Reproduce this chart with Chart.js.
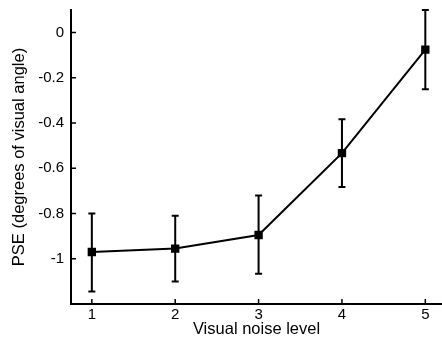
<!DOCTYPE html>
<html>
<head>
<meta charset="utf-8">
<script src="https://cdn.jsdelivr.net/npm/chart.js@4"></script>
<style>
  html, body { margin: 0; padding: 0; background: #fff; }
  #wrap { width: 442px; height: 345px; }
</style>
</head>
<body>
<div id="wrap"><canvas id="pseChart" width="442" height="345"></canvas></div>
<script>
// data
const noiseLevels = [1, 2, 3, 4, 5];
const pseMean = [-0.97, -0.955, -0.895, -0.533, -0.075];
const pseUpper = [-0.80, -0.81, -0.72, -0.383, 0.10];
const pseLower = [-1.145, -1.10, -1.066, -0.683, -0.25];
const yTickValues = [0, -0.2, -0.4, -0.6, -0.8, -1];
const xTickValues = [1, 2, 3, 4, 5];

const fontFamily = '"Liberation Sans", Arial, sans-serif';

// error bars + inward tick marks
const errorBarPlugin = {
    id: 'errorBars',
    afterDatasetsDraw(chart) {
        const ctx = chart.ctx;
        const xs = chart.scales.x;
        const ys = chart.scales.y;
        ctx.save();
        ctx.strokeStyle = '#000';
        ctx.lineWidth = 2;
        noiseLevels.forEach((lv, i) => {
            const px = xs.getPixelForValue(lv);
            const top = ys.getPixelForValue(pseUpper[i]);
            const bot = ys.getPixelForValue(pseLower[i]);
            ctx.beginPath();
            ctx.moveTo(px, top); ctx.lineTo(px, bot);
            ctx.moveTo(px - 3.5, top); ctx.lineTo(px + 3.5, top);
            ctx.moveTo(px - 3.5, bot); ctx.lineTo(px + 3.5, bot);
            ctx.stroke();
        });
        // ticks point into the plot
        const area = chart.chartArea;
        ctx.lineWidth = 1.5;
        ctx.beginPath();
        yTickValues.forEach(v => {
            const py = ys.getPixelForValue(v);
            ctx.moveTo(area.left, py); ctx.lineTo(area.left + 5, py);
        });
        xTickValues.forEach(v => {
            const px = xs.getPixelForValue(v);
            ctx.moveTo(px, area.bottom); ctx.lineTo(px, area.bottom - 5);
        });
        ctx.stroke();
        ctx.restore();
    }
};

const ctx = document.getElementById('pseChart').getContext('2d');
new Chart(ctx, {
    type: 'scatter',
    data: {
        datasets: [{
            data: noiseLevels.map((x, i) => ({ x: x, y: pseMean[i] })),
            showLine: true,
            borderColor: '#000',
            borderWidth: 2,
            pointStyle: 'rect',
            pointRadius: 4.5,
            pointBackgroundColor: '#000',
            pointBorderColor: '#000',
            clip: false
        }]
    },
    options: {
        responsive: false,
        animation: false,
        layout: { autoPadding: false, padding: { top: 10, right: 0, left: 0, bottom: 0 } },
        plugins: {
            legend: { display: false },
            tooltip: { enabled: false }
        },
        scales: {
            x: {
                type: 'linear',
                min: 0.75,
                max: 5.2,
                afterBuildTicks: s => { s.ticks = xTickValues.map(v => ({ value: v })); },
                afterFit: s => { s.height = 41; s.paddingLeft = 0; s.paddingRight = 0; },
                grid: { drawOnChartArea: false, drawTicks: false },
                border: { color: '#000', width: 2 },
                ticks: {
                    color: '#000',
                    padding: 2,
                    font: { family: fontFamily, size: 15 },
                    callback: v => String(v)
                },
                title: {
                    display: true,
                    text: 'Visual noise level',
                    color: '#000',
                    padding: { top: 0, bottom: 6 },
                    font: { family: fontFamily, size: 16.5 }
                }
            },
            y: {
                min: -1.2,
                max: 0.1,
                afterBuildTicks: s => { s.ticks = yTickValues.map(v => ({ value: v })); },
                afterFit: s => { s.width = 71; s.paddingTop = 0; s.paddingBottom = 0; },
                grid: { drawOnChartArea: false, drawTicks: false },
                border: { color: '#000', width: 2 },
                ticks: {
                    color: '#000',
                    padding: 7,
                    font: { family: fontFamily, size: 15 },
                    callback: v => String(v)
                },
                title: {
                    display: true,
                    text: 'PSE (degrees of visual angle)',
                    color: '#000',
                    padding: { top: 10, bottom: 0 },
                    font: { family: fontFamily, size: 16.5 }
                }
            }
        }
    },
    plugins: [errorBarPlugin]
});
</script>
</body>
</html>
